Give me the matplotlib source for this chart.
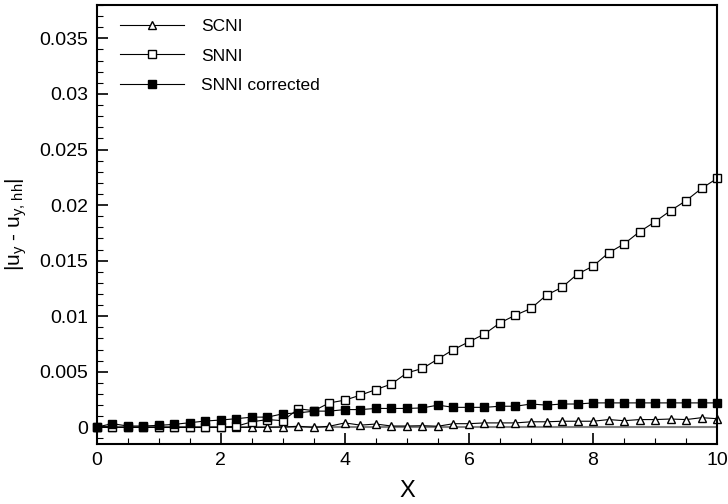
import numpy as np
import matplotlib
matplotlib.use('Agg')
import matplotlib.pyplot as plt
from matplotlib.ticker import MultipleLocator, FormatStrFormatter

plt.rcParams['font.family'] = ['Liberation Sans', 'DejaVu Sans']
plt.rcParams['mathtext.fontset'] = 'custom'
plt.rcParams['mathtext.rm'] = 'Liberation Sans'
plt.rcParams['mathtext.it'] = 'Liberation Sans'

# datos (x cada 0.25)
x = np.arange(0, 10.01, 0.25)

scni = [0.0, 0.0, 0.0, 0.0, 0.0, 0.0, 0.0, 0.0, 0.0, 0.0, 0.0, 0.0, 0.00003,
        0.0001, 0.0, 0.0001, 0.0004, 0.0002, 0.0003, 0.00012, 0.00012, 0.00015,
        0.0001, 0.00033, 0.00033, 0.0004, 0.0004, 0.0004, 0.0005, 0.0005,
        0.00055, 0.00055, 0.00055, 0.0007, 0.0006, 0.0007, 0.0007, 0.00075,
        0.0007, 0.00087, 0.00078]

snni = [0.0, 0.0, 0.0, 0.0, 0.0, 0.0, 0.0, 0.0, 0.0, 0.0001, 0.0005, 0.0007,
        0.0006, 0.00167, 0.0015, 0.0022, 0.00245, 0.0029, 0.0034, 0.0039,
        0.0049, 0.0053, 0.00615, 0.0070, 0.0077, 0.0084, 0.0094, 0.0101,
        0.0107, 0.0119, 0.0126, 0.0138, 0.0145, 0.0157, 0.0165, 0.0176,
        0.0185, 0.0195, 0.0204, 0.0215, 0.0224]

snni_corr = [0.00003, 0.00033, 0.00012, 0.00012, 0.00018, 0.00027, 0.00042,
             0.00057, 0.00066, 0.00078, 0.00092, 0.00092, 0.00122, 0.0013,
             0.00146, 0.00146, 0.0016, 0.0016, 0.0017, 0.0017, 0.0017, 0.00175,
             0.002, 0.0018, 0.0018, 0.0018, 0.0019, 0.0019, 0.0021, 0.0020,
             0.0021, 0.0021, 0.0022, 0.0022, 0.0022, 0.0022, 0.0022, 0.0022,
             0.0022, 0.0022, 0.0022]

fig = plt.figure(figsize=(7.28, 5.04), dpi=100)
ax = fig.add_axes([0.133, 0.119, 0.852, 0.871])

ax.axhline(0, color='gray', lw=1.5, zorder=1)
ax.plot(x, scni, '-^', color='black', lw=0.8, ms=5.5, mfc='white', mec='black',
        mew=1.0, label='SCNI', clip_on=False)
ax.plot(x, snni, '-s', color='black', lw=0.8, ms=5.5, mfc='white', mec='black',
        mew=1.0, label='SNNI', clip_on=False)
ax.plot(x, snni_corr, '-s', color='black', lw=0.8, ms=5.5, mfc='black', mec='black',
        label='SNNI corrected', clip_on=False)

ax.set_xlim(0, 10)
ax.set_ylim(-0.0015, 0.038)
ax.xaxis.set_major_locator(MultipleLocator(2))
ax.xaxis.set_minor_locator(MultipleLocator(0.5))
ax.yaxis.set_major_locator(MultipleLocator(0.005))
ax.yaxis.set_minor_locator(MultipleLocator(0.001))
ax.yaxis.set_major_formatter(FormatStrFormatter('%g'))
ax.tick_params(which='both', direction='in', top=False, right=False, labelsize=14)
ax.tick_params(which='major', length=8, width=1.2, pad=6)
ax.tick_params(which='minor', length=4, width=0.8)
for s in ax.spines.values():
    s.set_linewidth(1.5)

ax.set_xlabel('X', fontsize=17, labelpad=8)
ax.set_ylabel(r'$|u_y$ - $u_{y,\,hh}|$', fontsize=15, labelpad=8)

ax.legend(loc='upper left', bbox_to_anchor=(0.012, 1.005), frameon=False,
          fontsize=12.5, handlelength=3.7, borderaxespad=0.5,
          labelspacing=0.85, handletextpad=1.0)

fig.savefig('out.png', dpi=100)
